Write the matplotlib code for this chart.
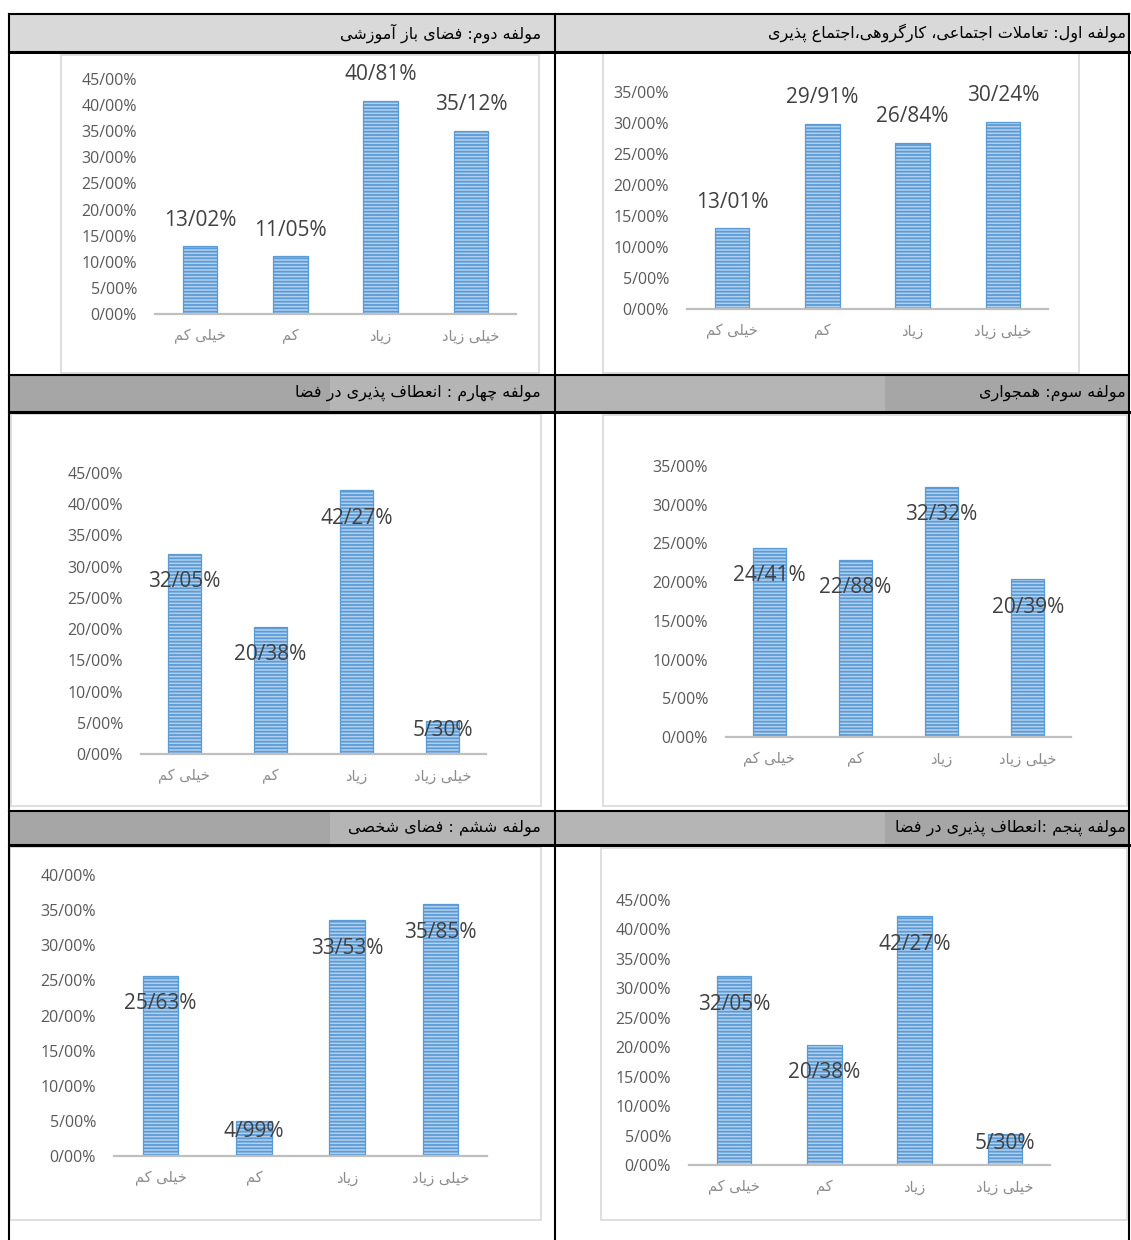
import matplotlib
matplotlib.use("Agg")
import matplotlib.pyplot as plt
import matplotlib.patches as patches

W, H = 1131, 1240

# ---- data ----
categories = ["خیلی کم", "کم", "زیاد", "خیلی زیاد"]

titles = [
    "مولفه اول: تعاملات اجتماعی، کارگروهی،اجتماع پذیری",
    "مولفه دوم: فضای باز آموزشی",
    "مولفه سوم: همجواری",
    "مولفه چهارم : انعطاف پذیری در فضا",
    "مولفه پنجم :انعطاف پذیری در فضا",
    "مولفه ششم : فضای شخصی",
]

vals_1 = [13.01, 29.91, 26.84, 30.24]
vals_2 = [13.02, 11.05, 40.81, 35.12]
vals_3 = [24.41, 22.88, 32.32, 20.39]
vals_4 = [32.05, 20.38, 42.27, 5.30]
vals_5 = [32.05, 20.38, 42.27, 5.30]
vals_6 = [25.63, 4.99, 33.53, 35.85]
all_vals = [vals_1, vals_2, vals_3, vals_4, vals_5, vals_6]

y_max = [35, 45, 35, 45, 45, 40]


# ---- poor man's arabic shaping (no raqm in matplotlib) ----
FORMS = {
    "ا": (0xFE8D, 0xFE8E), "آ": (0xFE81, 0xFE82),
    "د": (0xFEA9, 0xFEAA), "ذ": (0xFEAB, 0xFEAC),
    "ر": (0xFEAD, 0xFEAE), "ز": (0xFEAF, 0xFEB0),
    "و": (0xFEED, 0xFEEE),
    "ب": (0xFE8F, 0xFE90, 0xFE91, 0xFE92), "پ": (0xFB56, 0xFB57, 0xFB58, 0xFB59),
    "ت": (0xFE95, 0xFE96, 0xFE97, 0xFE98), "ج": (0xFE9D, 0xFE9E, 0xFE9F, 0xFEA0),
    "چ": (0xFB7A, 0xFB7B, 0xFB7C, 0xFB7D), "خ": (0xFEA5, 0xFEA6, 0xFEA7, 0xFEA8),
    "س": (0xFEB1, 0xFEB2, 0xFEB3, 0xFEB4), "ش": (0xFEB5, 0xFEB6, 0xFEB7, 0xFEB8),
    "ص": (0xFEB9, 0xFEBA, 0xFEBB, 0xFEBC), "ض": (0xFEBD, 0xFEBE, 0xFEBF, 0xFEC0),
    "ط": (0xFEC1, 0xFEC2, 0xFEC3, 0xFEC4), "ع": (0xFEC9, 0xFECA, 0xFECB, 0xFECC),
    "ف": (0xFED1, 0xFED2, 0xFED3, 0xFED4), "ک": (0xFB8E, 0xFB8F, 0xFB90, 0xFB91),
    "گ": (0xFB92, 0xFB93, 0xFB94, 0xFB95), "ل": (0xFEDD, 0xFEDE, 0xFEDF, 0xFEE0),
    "م": (0xFEE1, 0xFEE2, 0xFEE3, 0xFEE4), "ن": (0xFEE5, 0xFEE6, 0xFEE7, 0xFEE8),
    "ه": (0xFEE9, 0xFEEA, 0xFEEB, 0xFEEC), "ی": (0xFBFC, 0xFBFD, 0xFBFE, 0xFBFF),
}
LAM_ALEF = {"ا": (0xFEFB, 0xFEFC), "آ": (0xFEF5, 0xFEF6)}


def fa(text):
    out = []
    i = 0
    n = len(text)
    while i < n:
        c = text[i]
        if c not in FORMS:
            out.append(c)
            i += 1
            continue
        prev = text[i - 1] if i > 0 else None
        j_prev = prev in FORMS and len(FORMS[prev]) == 4
        nxt = text[i + 1] if i + 1 < n else None
        if c == "ل" and nxt in LAM_ALEF:
            out.append(chr(LAM_ALEF[nxt][1 if j_prev else 0]))
            i += 2
            continue
        f = FORMS[c]
        j_next = len(f) == 4 and nxt in FORMS
        if j_prev and j_next:
            out.append(chr(f[3]))
        elif j_prev:
            out.append(chr(f[1]))
        elif j_next:
            out.append(chr(f[2]))
        else:
            out.append(chr(f[0]))
        i += 1
    return "".join(reversed(out))


def pct(v, nd):
    return f"{v:.{nd}f}".replace(".", "/") + "%"


plt.rcParams["hatch.linewidth"] = 1.3

fig = plt.figure(figsize=(W / 100, H / 100), dpi=100)
bg = fig.add_axes([0, 0, 1, 1])
bg.set_xlim(0, W)
bg.set_ylim(H, 0)
bg.axis("off")

# table: header bands (y0, y1), light band inside the darker ones
headers = [(14, 52, "#d9d9d9"), (375, 412, "#a6a6a6"), (811, 845, "#a6a6a6")]
for y0, y1, col in headers:
    bg.add_patch(patches.Rectangle((9, y0), 1120, y1 - y0, fc=col, ec="none"))
    if col != "#d9d9d9":
        bg.add_patch(patches.Rectangle((330, y0), 555, y1 - y0, fc="#b5b5b5", ec="none"))
    bg.plot([9, 1129], [y0, y0], color="black", lw=1.5)
    bg.plot([9, 1129], [y1, y1], color="black", lw=2.2)
for x in (9, 555, 1129):
    bg.plot([x, x], [14, H], color="black", lw=1.5)

# panels: order right/left per row (RTL table)
# (header text x, header y, chart box, axes x0, x1, baseline y, top y, label mode)
layout = [
    (1126, 33, (603, 53, 1079, 373), 687, 1048, 309, 92, "above"),
    (541, 33, (61, 55, 539, 373), 155, 516, 314, 79, "above"),
    (1126, 393, (603, 415, 1127, 806), 726, 1071, 737, 466, "inside"),
    (541, 393, (11, 414, 541, 806), 141, 486, 754, 473, "inside"),
    (1126, 828, (601, 848, 1127, 1220), 689, 1050, 1165, 900, "inside"),
    (541, 828, (10, 847, 541, 1220), 114, 487, 1156, 875, "inside"),
]

for k, (tx, ty, box, x0, x1, yb, yt, mode) in enumerate(layout):
    bg.text(tx, ty, fa(titles[k]), ha="right", va="center", fontsize=11.5,
            family=["DejaVu Sans"], color="black")
    bx0, by0, bx1, by1 = box
    bg.add_patch(patches.Rectangle((bx0, by0), bx1 - bx0, by1 - by0,
                                   fc="white", ec="#d9d9d9", lw=1.2))

    ax = fig.add_axes([x0 / W, 1 - yb / H, (x1 - x0) / W, (yb - yt) / H])
    ax.set_facecolor("none")
    vals = all_vals[k]
    xs = range(len(vals))
    ax.bar(xs, vals, width=0.38, color="#b3d0ef", edgecolor="#5b9bd5",
           linewidth=0.9, hatch="-----", zorder=2)
    ax.set_xlim(-0.5, 3.5)
    ax.set_ylim(0, y_max[k])
    ax.set_yticks(range(0, y_max[k] + 1, 5))
    ax.set_yticklabels([pct(t, 2) for t in range(0, y_max[k] + 1, 5)],
                       family="Open Sans", fontsize=11.5, color="#595959")
    ax.set_xticks(list(xs))
    ax.set_xticklabels([fa(c) for c in categories], family="DejaVu Sans",
                       fontsize=10.5, color="#8c8c8c")
    ax.tick_params(axis="y", length=0, pad=13)
    ax.tick_params(axis="x", length=0, pad=11)
    for s in ("top", "left", "right"):
        ax.spines[s].set_visible(False)
    ax.spines["bottom"].set_color("#bfbfbf")
    ax.spines["bottom"].set_linewidth(1.6)
    ax.spines["bottom"].set_zorder(3)

    ax_px = yb - yt
    for i, v in enumerate(vals):
        if mode == "above":
            off = 26
        else:
            bar_px = v / y_max[k] * ax_px
            off = -min(28, 0.3 * bar_px)
        ax.annotate(pct(v, 2), (i, v), xytext=(0, off * 0.72),
                    textcoords="offset points", ha="center", va="center",
                    family="Open Sans", fontsize=15, color="#404040",
                    zorder=4, annotation_clip=False)

fig.savefig("out.png", dpi=100)
